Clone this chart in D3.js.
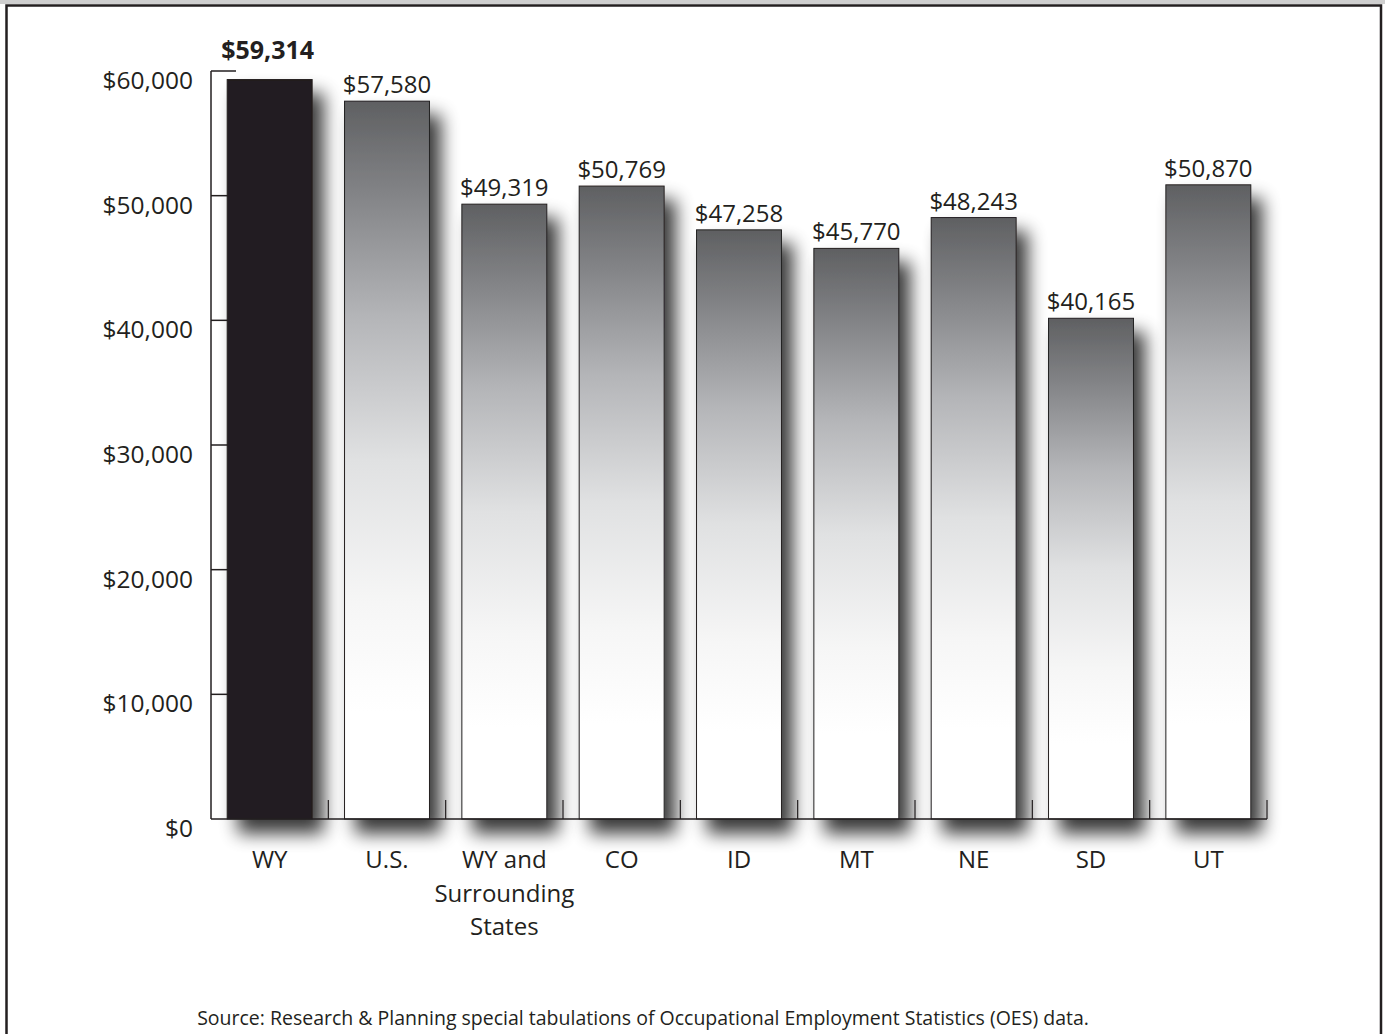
<!DOCTYPE html>
<html>
<head>
<meta charset="utf-8">
<script src="https://cdn.jsdelivr.net/npm/d3@7/dist/d3.min.js"></script>
<style>
  html, body { margin: 0; padding: 0; background: #fff; }
  svg { display: block; font-family: "Open Sans", "Noto Sans", sans-serif; }
</style>
</head>
<body>
<svg id="chart" width="1385" height="1034"></svg>
<script>
// Average annual wage by area
const categories = ["WY", "U.S.", "WY and|Surrounding|States", "CO", "ID", "MT", "NE", "SD", "UT"];
const wages = [59314, 57580, 49319, 50769, 47258, 45770, 48243, 40165, 50870];
const highlight = "WY";
const yTicks = [0, 10000, 20000, 30000, 40000, 50000, 60000];
const sourceNote = "Source: Research & Planning special tabulations of Occupational Employment Statistics (OES) data.";

const ink = "#231f20";
const W = 1385, H = 1034;
const svg = d3.select("#chart");

// page frame
svg.append("rect").attr("x", 0).attr("y", 0).attr("width", W).attr("height", 4).attr("fill", "#cfcfcf");
svg.append("path")
  .attr("d", `M6.5,${H + 5} V5.5 H1381 V${H + 5}`)
  .attr("fill", "none").attr("stroke", ink).attr("stroke-width", 2.5);

const defs = svg.append("defs");
const grad = defs.append("linearGradient").attr("id", "barGrad")
  .attr("x1", 0).attr("y1", 0).attr("x2", 0).attr("y2", 1);
[[0, "#5f6062"], [0.12, "#808184"], [0.3, "#b4b5b8"], [0.5, "#e0e1e2"], [0.7, "#f6f6f6"], [0.85, "#ffffff"], [1, "#ffffff"]]
  .forEach(([o, c]) => grad.append("stop").attr("offset", o).attr("stop-color", c));

// soft drop shadow down and to the right of each bar
const shadow = defs.append("filter").attr("id", "dropShadow")
  .attr("x", "-40%").attr("y", "-10%").attr("width", "200%").attr("height", "130%");
shadow.append("feGaussianBlur").attr("in", "SourceAlpha").attr("stdDeviation", 9).attr("result", "blur");
shadow.append("feOffset").attr("in", "blur").attr("dx", 11).attr("dy", 14).attr("result", "off");
shadow.append("feComponentTransfer").attr("in", "off").attr("result", "shade")
  .append("feFuncA").attr("type", "linear").attr("slope", 0.78);
const merge = shadow.append("feMerge");
merge.append("feMergeNode").attr("in", "shade");
merge.append("feMergeNode").attr("in", "SourceGraphic");

const x0 = 211, x1 = 1267, yTop = 71, yBase = 819;
const x = d3.scaleBand().domain(categories).range([x0, x1])
  .paddingInner(0.276).paddingOuter(0.138);
const y = d3.scaleLinear().domain([0, 60000]).range([yBase, yTop]);
const step = x.step();

// value axis: line with inward ticks
const yAxis = svg.append("g");
yAxis.append("line").attr("x1", x0).attr("x2", x0).attr("y1", y(60000)).attr("y2", y(0))
  .attr("stroke", ink).attr("stroke-width", 1.5);
yAxis.selectAll("line.tick").data(yTicks.filter(t => t > 0)).join("line")
  .attr("class", "tick")
  .attr("x1", x0).attr("x2", x0 + 25)
  .attr("y1", d => y(d)).attr("y2", d => y(d))
  .attr("stroke", ink).attr("stroke-width", 1.5);
yAxis.selectAll("text").data(yTicks).join("text")
  .attr("x", 193).attr("y", d => y(d) + 18)
  .attr("text-anchor", "end")
  .attr("font-size", 24.5).attr("fill", ink)
  .text(d => d3.format("$,")(d));

// bars
const data = categories.map((c, i) => ({ c, v: wages[i] }));
svg.append("g").selectAll("rect").data(data).join("rect")
  .attr("x", d => x(d.c))
  .attr("y", d => y(d.v))
  .attr("width", x.bandwidth())
  .attr("height", d => y(0) - y(d.v))
  .attr("fill", d => d.c === highlight ? ink : "url(#barGrad)")
  .attr("stroke", ink).attr("stroke-width", 1)
  .attr("filter", "url(#dropShadow)");

// category axis: baseline and boundary ticks
const xAxis = svg.append("g");
xAxis.append("line").attr("x1", x0).attr("x2", x1).attr("y1", yBase).attr("y2", yBase)
  .attr("stroke", ink).attr("stroke-width", 1.5);
xAxis.selectAll("line.tick").data(d3.range(1, categories.length + 1)).join("line")
  .attr("class", "tick")
  .attr("x1", i => x0 + i * step).attr("x2", i => x0 + i * step)
  .attr("y1", yBase - 19).attr("y2", yBase)
  .attr("stroke", ink).attr("stroke-width", 1.2);

// category labels (multi-line)
xAxis.selectAll("text").data(categories).join("text")
  .attr("x", d => x(d) + x.bandwidth() / 2)
  .attr("y", 868)
  .attr("text-anchor", "middle")
  .attr("font-size", 24).attr("fill", ink)
  .each(function (d) {
    const t = d3.select(this);
    d.split("|").forEach((line, i) => {
      t.append("tspan").attr("x", x(d) + x.bandwidth() / 2).attr("dy", i === 0 ? 0 : 33.5).text(line);
    });
  });

// value labels (highlighted one sits above the axis bracket)
svg.append("g").selectAll("text").data(data).join("text")
  .attr("x", d => x(d.c) + x.bandwidth() / 2 - (d.c === highlight ? 2 : 0))
  .attr("y", d => y(d.v) - (d.c === highlight ? 21 : 8))
  .attr("text-anchor", "middle")
  .attr("font-size", d => d.c === highlight ? 25 : 24)
  .attr("font-weight", d => d.c === highlight ? 700 : 400)
  .attr("fill", ink)
  .text(d => d3.format("$,")(d.v));

// source note
svg.append("text")
  .attr("x", 643).attr("y", 1025)
  .attr("text-anchor", "middle")
  .attr("font-size", 19.5).attr("fill", ink)
  .text(sourceNote);
</script>
</body>
</html>
